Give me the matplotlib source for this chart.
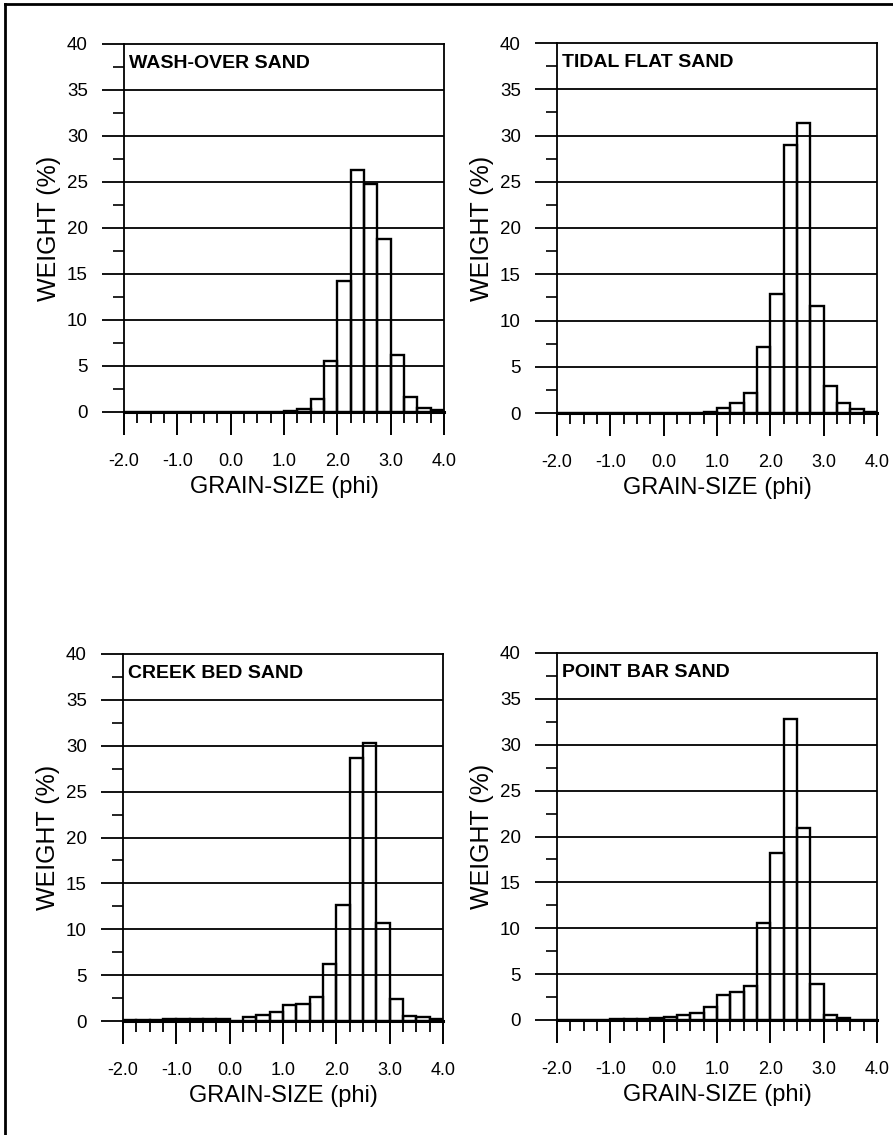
import numpy as np
import matplotlib
matplotlib.use('Agg')
import matplotlib.pyplot as plt
from matplotlib.lines import Line2D

plt.rcParams['font.family'] = ['Liberation Sans', 'DejaVu Sans']

# Grain-size classes: quarter-phi bins from -2.0 to 4.0 phi
bin_edges = np.arange(-2.0, 4.0001, 0.25)
xtick_values = [-2.0, -1.0, 0.0, 1.0, 2.0, 3.0, 4.0]
xtick_labels = ['-2.0', '-1.0', '0.0', '1.0', '2.0', '3.0', '4.0']
ytick_values = [0, 5, 10, 15, 20, 25, 30, 35, 40]

# Weight percent per bin for each sand type
wash_over = [0, 0, 0, 0, 0, 0, 0, 0, 0, 0, 0, 0.05,
             0.1, 0.3, 1.4, 5.5, 14.2, 26.3, 24.8, 18.8, 6.2, 1.6, 0.45, 0.2]
tidal_flat = [0, 0, 0, 0, 0, 0, 0, 0, 0, 0, 0, 0.1,
              0.5, 1.1, 2.2, 7.1, 12.9, 29.0, 31.3, 11.6, 2.9, 1.1, 0.4, 0.1]
creek_bed = [0.1, 0.1, 0.1, 0.2, 0.2, 0.2, 0.2, 0.2, 0.05, 0.45, 0.65, 1.0,
             1.75, 1.9, 2.65, 6.2, 12.65, 28.65, 30.3, 10.65, 2.4, 0.55, 0.45, 0.25]
point_bar = [0, 0, 0, 0, 0.1, 0.1, 0.1, 0.18, 0.3, 0.5, 0.75, 1.4,
             2.7, 3.1, 3.7, 10.55, 18.25, 32.8, 20.9, 3.9, 0.5, 0.2, 0.05, 0]

panels = [
    ('WASH-OVER SAND', wash_over),
    ('TIDAL FLAT SAND', tidal_flat),
    ('CREEK BED SAND', creek_bed),
    ('POINT BAR SAND', point_bar),
]

W, H = 893, 1135
fig = plt.figure(figsize=(W / 100, H / 100), dpi=100)
fig.patch.set_facecolor('white')

# axes boxes in pixels: left, top, right, bottom
boxes = [(124, 44, 444, 412), (557, 43, 877, 413),
         (123, 654, 443, 1021), (557, 653, 877, 1020)]

for (title, weights), (l, t, r, b) in zip(panels, boxes):
    ax = fig.add_axes([l / W, 1 - b / H, (r - l) / W, (b - t) / H])
    lefts = bin_edges[:-1]
    ax.bar(lefts, weights, width=0.25, align='edge', facecolor='none',
           edgecolor='black', linewidth=1.7, zorder=3)
    ax.set_xlim(-2.0, 4.0)
    ax.set_ylim(0, 40)

    ax.set_yticks(ytick_values)
    ax.set_yticks(np.arange(2.5, 40, 5), minor=True)
    ax.set_xticks(xtick_values)
    ax.set_xticklabels(xtick_labels)
    ax.set_xticks(bin_edges, minor=True)

    for y in ytick_values[1:-1]:
        ax.axhline(y, color='black', linewidth=1.3, zorder=2)

    ax.tick_params(axis='y', which='major', direction='out', length=16,
                   width=1.3, pad=10, labelsize=13.5)
    ax.tick_params(axis='y', which='minor', direction='out', length=8,
                   width=1.2)
    ax.tick_params(axis='x', which='major', direction='out', length=16.5,
                   width=1.4, pad=13, labelsize=13)
    ax.tick_params(axis='x', which='minor', direction='out', length=8,
                   width=1.3)

    for side in ['left', 'right', 'top']:
        ax.spines[side].set_linewidth(1.3)
    ax.spines['bottom'].set_linewidth(2.2)

    ax.set_xlabel('GRAIN-SIZE (phi)', fontsize=17, labelpad=4)
    ax.set_ylabel('WEIGHT (%)', fontsize=18, labelpad=4)

    ax.text(0.017, 0.946, title, transform=ax.transAxes, fontsize=14,
            fontweight='bold', ha='left', va='center')

# frame lines along the top and left of the page
fig.add_artist(Line2D([5 / W, 1.0], [1 - 4 / H, 1 - 4 / H],
                      transform=fig.transFigure, color='black', linewidth=2))
fig.add_artist(Line2D([5 / W, 5 / W], [0.0, 1 - 4 / H],
                      transform=fig.transFigure, color='black', linewidth=2))

fig.savefig('out.png', dpi=100, facecolor='white')
